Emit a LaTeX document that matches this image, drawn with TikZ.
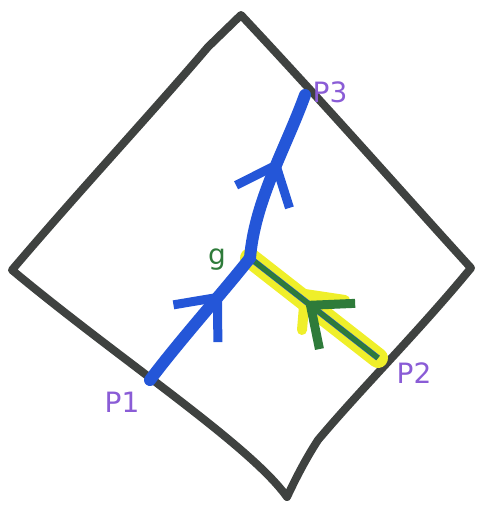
\documentclass[tikz,border=0pt]{standalone}
\usepackage{fontspec}
\setsansfont{DejaVu Sans}
\usetikzlibrary{arrows.meta,decorations.markings,calc}
\definecolor{pen}{HTML}{3F4240}
\definecolor{ink}{HTML}{2456D8}
\definecolor{plum}{HTML}{8A5CD6}
\definecolor{leaf}{HTML}{2E7B3A}
\definecolor{marker}{HTML}{EFEF2A}
\tikzset{
  edge/.style={pen, line width=8pt, line cap=round, line join=round},
  trail/.style={ink, line width=12pt, line cap=round},
  tag/.style={plum, font=\fontsize{28}{28}\sffamily},
  midbarb/.style={postaction={decorate, decoration={markings,
      mark=at position #1 with {\arrow{Straight Barb[length=34pt, width=58pt, line width=9pt]}}}}}
}
\begin{document}
\begin{tikzpicture}[x=1pt, y=-1pt]
    \useasboundingbox (0,0) rectangle (479,511);
    % corners of the region
    \coordinate (top) at (241,15);
    \coordinate (left) at (12,270);
    \coordinate (right) at (471,268);
    \coordinate (bottom) at (287,497);
    % points on the boundary and the junction
    \coordinate (p1) at (150,380);
    \coordinate (p2) at (378,358);
    \coordinate (p3) at (305,95);
    \coordinate (g) at (250,258);

    \draw[edge] (left) .. controls (80,190) and (150,115) .. (208,47) -- (top)
      .. controls (330,110) and (400,190) .. (right)
      .. controls (420,330) and (360,390) .. (318,440)
      .. controls (305,460) and (295,480) .. (bottom)
      .. controls (250,445) and (120,360) .. (left);

    % highlighted branch towards g
    \draw[marker, line width=20pt, line cap=round] (p2) -- (g);
    \draw[marker, line width=10pt, line cap=round] (305,294) -- (345,300) (305,294) -- (302,330);
    \draw[ink, line width=6pt] (p2) -- (g);
    \draw[leaf, line width=5pt, midbarb=0.57] (p2) -- (g);

    \draw[trail, midbarb=0.72] (p1) .. controls (180,340) and (225,290) .. (g);
    \draw[leaf, line width=2pt] ($(g)+(-4,0)$) .. controls (251,200) and (279,150) .. ($(p3)+(-4,0)$);
    \draw[trail, midbarb=0.6] (g) .. controls (255,200) and (285,150) .. (p3);

    \node[tag] (l3) at (330,92) {P3};
    \node[tag] (l2) at (414,373) {P2};
    \node[tag] (l1) at (122,402) {P1};
    \node[leaf, font=\fontsize{28}{28}\sffamily] (lg) at (217,260) {g};
\end{tikzpicture}
\end{document}
